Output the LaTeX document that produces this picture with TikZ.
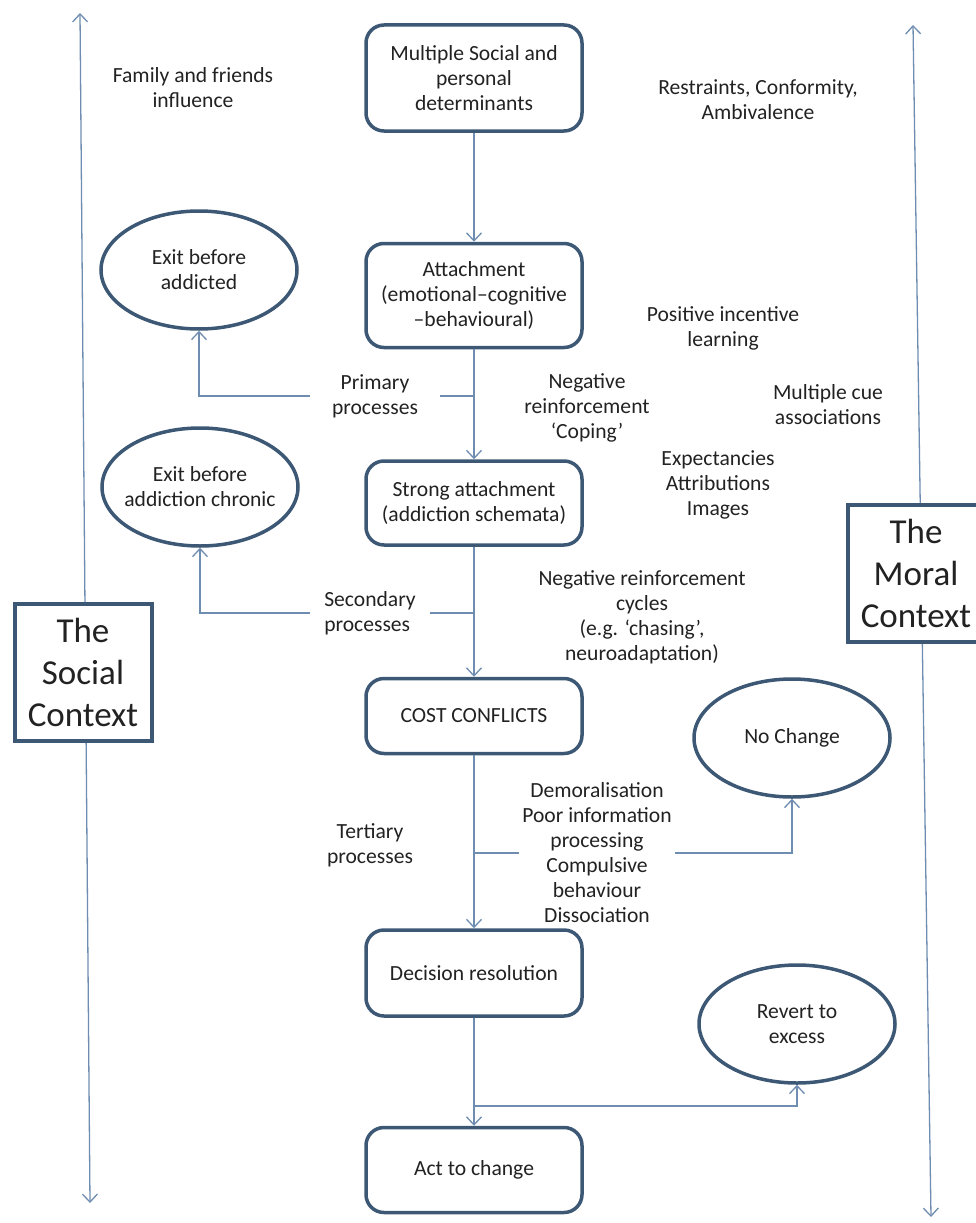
\documentclass[tikz,border=0pt]{standalone}
\usepackage{fontspec}
\setmainfont{Carlito}
\usepackage{xcolor}
\usepackage{tikz}
\usetikzlibrary{arrows.meta,positioning,shapes.geometric}
\definecolor{boxline}{HTML}{3D5875}
\definecolor{linkblue}{HTML}{6E8DB0}
\definecolor{inkgray}{HTML}{222222}

\begin{document}
\begin{tikzpicture}[
x=1pt,y=-1pt,
font=\fontsize{21.6}{25}\selectfont,
text=inkgray,
box/.style={draw=boxline,line width=3.5pt,rounded corners=18pt,fill=white,align=center,minimum width=216pt},
exitnode/.style={ellipse,draw=boxline,line width=3.5pt,fill=white,align=center,minimum width=196pt,minimum height=118pt,inner xsep=-25pt,inner ysep=0pt},
context/.style={draw=boxline,line width=4pt,fill=white,align=center,minimum width=137pt,minimum height=137pt,font=\fontsize{35}{42}\selectfont},
note/.style={align=center,inner sep=0pt},
link/.style={-{Straight Barb[length=8pt,width=15pt]},line width=1.3pt,draw=linkblue},
twoway/.style={{Straight Barb[length=8pt,width=15pt]}-{Straight Barb[length=8pt,width=15pt]},line width=1.3pt,draw=linkblue},
forkline/.style={line width=1.3pt,draw=linkblue},
]
\useasboundingbox (0,0) rectangle (976,1223);

% the two contexts
\coordinate (socialtop) at (80,13);
\coordinate (socialend) at (90,1203);
\coordinate (moraltop) at (913,25);
\coordinate (moralend) at (931,1217);
\draw[twoway] (socialtop) -- (socialend);
\draw[twoway] (moraltop) -- (moralend);
\node[context] (social) at (83,672) {The\\Social\\Context};
\node[context] (moral) at (916,573) {The\\Moral\\Context};

% main column
\node[box,minimum height=106pt] (determinants) at (474,78) {Multiple Social and\\personal\\determinants};
\node[box,minimum height=104pt,below=109pt of determinants] (attachment) {Attachment\\(emotional--cognitive\\--behavioural)};
\node[box,minimum height=84pt,below=110pt of attachment] (strong) {Strong attachment\\(addiction schemata)};
\node[box,minimum height=75pt,below=130pt of strong] (conflicts) {COST CONFLICTS};
\node[box,minimum height=86pt,below=173pt of conflicts] (decision) {Decision resolution};
\node[box,minimum height=85pt,below=108pt of decision] (act) {Act to change};

% exits
\node[exitnode] (exitaddicted) at (199,270) {Exit before\\addicted};
\node[exitnode] (exitchronic) at (200,487) {Exit before\\addiction chronic};
\node[exitnode] (nochange) at (792,738) {No Change};
\node[exitnode] (revert) at (797,1024) {Revert to\\excess};

% labels
\node[note] (family) at (193,88) {Family and friends\\influence};
\node[note] (restraints) at (758,100) {Restraints, Conformity,\\Ambivalence};
\node[note] (incentive) at (723,328) {Positive incentive\\learning};
\node[note] (coping) at (587,408) {Negative\\reinforcement\\`Coping'};
\node[note] (cues) at (828,405) {Multiple cue\\associations};
\node[note] (expectancies) at (718,485) {Expectancies\\Attributions\\Images};
\node[note] (cycles) at (642,617) {Negative reinforcement\\cycles\\(e.g. `chasing',\\neuroadaptation)};
\node[note] (tertiary) at (370,845) {Tertiary\\processes};
\node[note,inner xsep=22pt] (primary) at (375,396) {Primary\\processes};
\node[note,align=left,inner xsep=14pt] (secondary) at (370,613) {Secondary\\processes};
\node[note,inner xsep=3pt] (symptoms) at (597,853) {Demoralisation\\Poor information\\processing\\Compulsive\\behaviour\\Dissociation};

% forks on the main line
\coordinate (primaryfork) at (474,396);
\coordinate (secondaryfork) at (474,613);
\coordinate (tertiaryfork) at (474,853);
\coordinate (revertfork) at (474,1106);

\draw[link] (determinants) -- (attachment);
\draw[link] (attachment) -- (strong);
\draw[link] (strong) -- (conflicts);
\draw[link] (conflicts) -- (decision);
\draw[link] (decision) -- (act);
\draw[forkline] (primaryfork) -- (primary.east);
\draw[link] (primary.west) -| (exitaddicted);
\draw[forkline] (secondaryfork) -- (secondary.east);
\draw[link] (secondary.west) -| (exitchronic);
\draw[forkline] (tertiaryfork) -- (symptoms.west);
\draw[link] (symptoms.east) -| (nochange);
\draw[link] (revertfork) -| (revert);
\end{tikzpicture}
\end{document}
